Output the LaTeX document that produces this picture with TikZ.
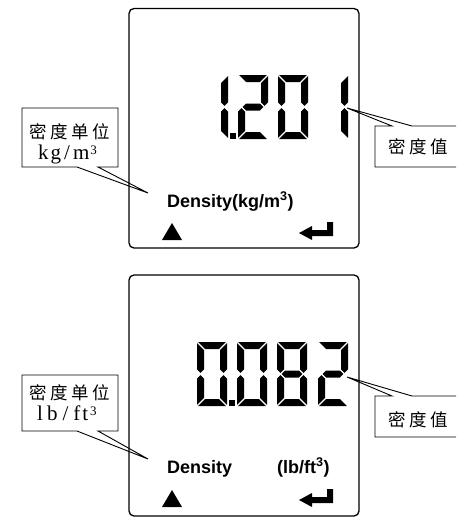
\documentclass[tikz,border=0pt]{standalone}
\usepackage{fontspec}
\setmainfont{Liberation Serif}
\newfontfamily\cjkf{Noto Sans CJK SC}
\newfontfamily\arialf{Liberation Sans}

% seven-segment digit: x, y, then flags a b c d e f g
\newcommand\lcddigit[9]{%
  \begin{scope}[shift={(#1,#2)}]
    \ifnum#3=1 \fill[segfill] (1.2,0) -- (28.8,0) -- (21.8,7) -- (8.2,7) -- cycle;\fi
    \ifnum#4=1 \fill[segfill] (30,1.2) -- (23,8.2) -- (23,27.3) -- (26.5,30.8) -- (30,27.3) -- cycle;\fi
    \ifnum#5=1 \fill[segfill] (30,36.7) -- (26.5,33.2) -- (23,36.7) -- (23,55.8) -- (30,62.8) -- cycle;\fi
    \ifnum#6=1 \fill[segfill] (1.2,64) -- (28.8,64) -- (21.8,57) -- (8.2,57) -- cycle;\fi
    \ifnum#7=1 \fill[segfill] (0,36.7) -- (3.5,33.2) -- (7,36.7) -- (7,55.8) -- (0,62.8) -- cycle;\fi
    \ifnum#8=1 \fill[segfill] (0,1.2) -- (7,8.2) -- (7,27.3) -- (3.5,30.8) -- (0,27.3) -- cycle;\fi
    \ifnum#9=1 \fill[segfill] (4.7,32) -- (8.2,28.5) -- (21.8,28.5) -- (25.3,32) -- (21.8,35.5) -- (8.2,35.5) -- cycle;\fi
  \end{scope}}
\newcommand\supthree{\raisebox{5pt}{\fontsize{13}{13}\selectfont 3}}

\tikzset{
  segfill/.style={fill=black},
  lcd/.style={draw, line width=1.3pt, rounded corners=5pt},
  callout/.style={draw, line width=0.9pt, line join=miter},
  cjklbl/.style={inner sep=0pt, font=\cjkf\fontsize{17.5}{20}\selectfont},
  serlbl/.style={inner sep=0pt, anchor=base west, font=\fontsize{21}{23}\selectfont},
  dens/.style={inner sep=0pt, anchor=base west, font=\arialf\bfseries\fontsize{18}{21}\selectfont},
}

\begin{document}
\begin{tikzpicture}[x=1pt,y=-1pt]
\useasboundingbox (0,0) rectangle (456,520);
\begin{scope}
\clip (0,0) rectangle (456,520);

% ---------- top panel ----------
\draw[lcd] (129,8.5) rectangle (359,248);
\lcddigit{198}{75}{0}{1}{1}{0}{0}{0}{0}
\fill[segfill] (229.5,133) rectangle (235.5,139);
\lcddigit{238}{75}{1}{1}{0}{1}{1}{0}{1}
\lcddigit{278}{75}{1}{1}{1}{1}{1}{1}{0}
\lcddigit{318}{75}{0}{1}{1}{0}{0}{0}{0}

\node[dens] (d1) at (167,207) {Density(kg/m\textsuperscript{3})};
\fill (162,240) -- (182,240) -- (172,223) -- cycle;
\fill (299,233) -- (312,226) -- (312,230) -- (327,230) -- (327,222) -- (333,222)
      -- (333,236) -- (312,236) -- (312,240) -- cycle;

\coordinate (t1) at (148,193);
\draw[callout] (22,108) -- (118,108) -- (118,167) -- (98,167) -- (t1) -- (77,167) -- (22,167) -- cycle;
\node[cjklbl] (u1) at (69.5,131.5) {密\hspace{3.5pt}度\hspace{3.5pt}单\hspace{3.5pt}位};
\node[serlbl] (k1) at (38,159) {k\hspace{2pt}g\hspace{3pt}/\hspace{3pt}m\hspace{1pt}\supthree};

\coordinate (t2) at (347,108);
\draw[callout] (375,126) -- (392,126) -- (t2) -- (412,126) -- (470,126) -- (470,167) -- (375,167) -- cycle;
\node[cjklbl] (v1) at (418,147) {密\hspace{3.5pt}度\hspace{3.5pt}值};

% ---------- bottom panel ----------
\draw[lcd] (129,275) rectangle (359,516);
\lcddigit{197}{342}{1}{1}{1}{1}{1}{1}{0}
\fill[segfill] (228.5,400) rectangle (234.5,406);
\lcddigit{237}{342}{1}{1}{1}{1}{1}{1}{0}
\lcddigit{277}{342}{1}{1}{1}{1}{1}{1}{1}
\lcddigit{318}{342}{1}{1}{0}{1}{1}{0}{1}

\node[dens] (d2) at (167,473) {Density};
\node[dens] (d3) at (277,473) {(lb/ft\textsuperscript{3})};
\fill (162,507) -- (182,507) -- (172,490) -- cycle;
\begin{scope}[shift={(0,267)}]
\fill (299,233) -- (312,226) -- (312,230) -- (327,230) -- (327,222) -- (333,222)
      -- (333,236) -- (312,236) -- (312,240) -- cycle;
\end{scope}

\coordinate (t3) at (148,459);
\draw[callout] (22,375) -- (118,375) -- (118,431) -- (98,431) -- (t3) -- (77,431) -- (22,431) -- cycle;
\node[cjklbl] (u2) at (69.5,393) {密\hspace{3.5pt}度\hspace{3.5pt}单\hspace{3.5pt}位};
\node[serlbl] (k2) at (37,420.5) {l\hspace{4pt}b\hspace{5pt}/\hspace{5pt}f\hspace{2pt}t\hspace{2pt}\supthree};

\coordinate (t4) at (347,377);
\draw[callout] (375,396) -- (392,396) -- (t4) -- (412,396) -- (470,396) -- (470,437) -- (375,437) -- cycle;
\node[cjklbl] (v2) at (418,419.5) {密\hspace{3.5pt}度\hspace{3.5pt}值};
\end{scope}
\end{tikzpicture}
\end{document}
